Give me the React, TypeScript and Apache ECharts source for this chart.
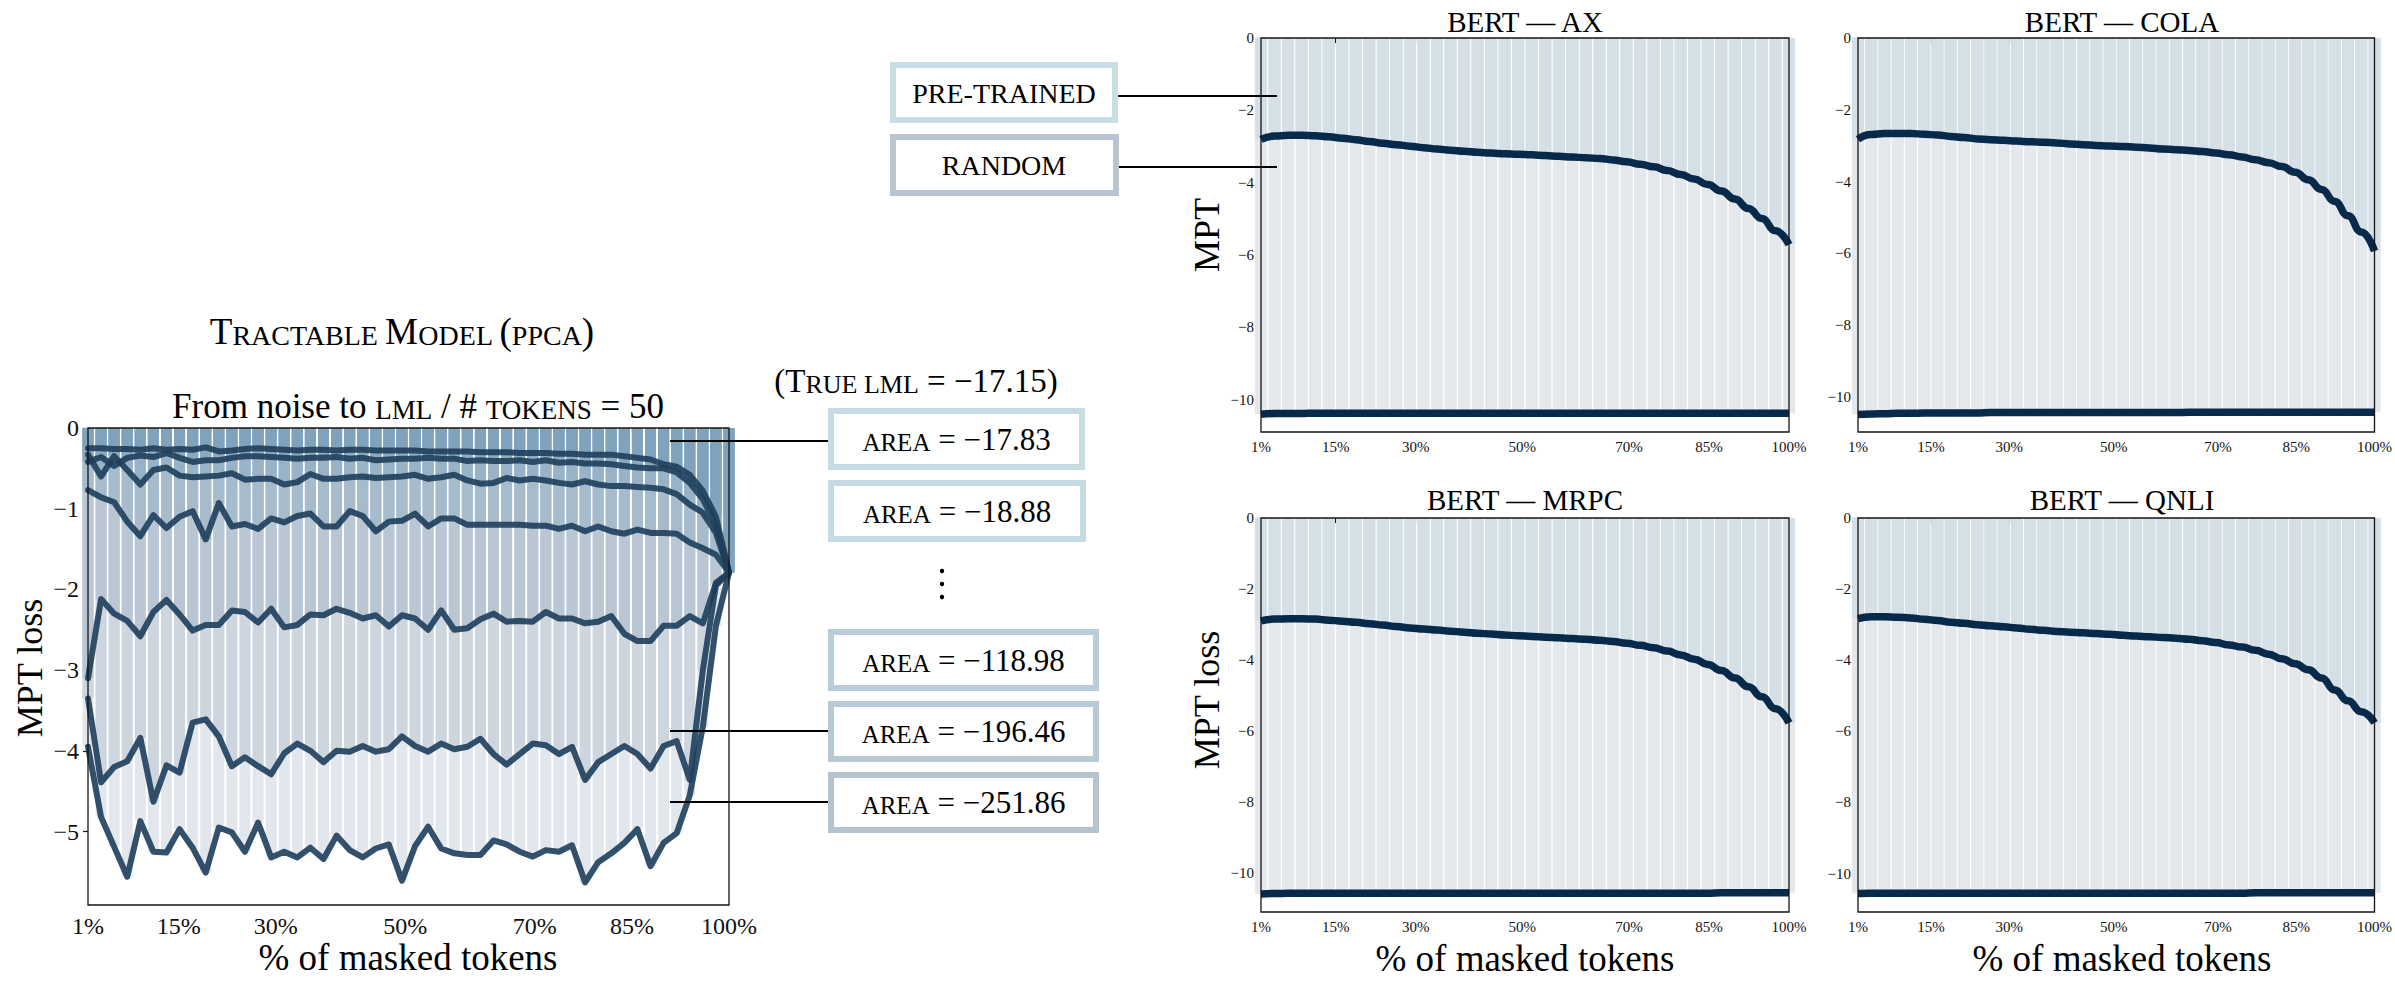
import React, { useEffect, useRef } from "react";
import * as echarts from "echarts";

const SERIF = "'Liberation Serif', 'DejaVu Serif', serif";
const MINUS = "\u2212";

// ---------- categories / ticks ----------
const maskPct50 = [
  1, 3.02, 5.04, 7.06, 9.08, 11.1, 13.12, 15.14, 17.16, 19.18,
  21.2, 23.22, 25.24, 27.27, 29.29, 31.31, 33.33, 35.35, 37.37, 39.39,
  41.41, 43.43, 45.45, 47.47, 49.49, 51.51, 53.53, 55.55, 57.57, 59.59,
  61.61, 63.63, 65.65, 67.67, 69.69, 71.71, 73.73, 75.76, 77.78, 79.8,
  81.82, 83.84, 85.86, 87.88, 89.9, 91.92, 93.94, 95.96, 97.98, 100,
];
const maskPct40 = [
  1, 3.54, 6.08, 8.62, 11.15, 13.69, 16.23, 18.77, 21.31, 23.85,
  26.38, 28.92, 31.46, 34, 36.54, 39.08, 41.62, 44.15, 46.69, 49.23,
  51.77, 54.31, 56.85, 59.38, 61.92, 64.46, 67, 69.54, 72.08, 74.62,
  77.15, 79.69, 82.23, 84.77, 87.31, 89.85, 92.38, 94.92, 97.46, 100,
];
const pctTicks = [1, 15, 30, 50, 70, 85, 100];
const ppcaTicksY = [0, -1, -2, -3, -4, -5];
const bertTicksY = [0, -2, -4, -6, -8, -10];

// ---------- PPCA (left) series: MPT loss per masking level ----------
const ppcaA = [
  -0.25, -0.25, -0.26, -0.26, -0.27, -0.25, -0.27, -0.26, -0.27, -0.24,
  -0.29, -0.28, -0.26, -0.25, -0.26, -0.27, -0.28, -0.27, -0.27, -0.28,
  -0.27, -0.27, -0.28, -0.28, -0.28, -0.28, -0.29, -0.29, -0.29, -0.29,
  -0.3, -0.3, -0.3, -0.31, -0.31, -0.31, -0.32, -0.32, -0.33, -0.33,
  -0.33, -0.35, -0.37, -0.39, -0.45, -0.48, -0.58, -0.78, -1.1, -1.79,
];
const ppcaB = [
  -0.42, -0.36, -0.47, -0.37, -0.34, -0.36, -0.31, -0.37, -0.42, -0.4,
  -0.4, -0.37, -0.35, -0.35, -0.36, -0.37, -0.38, -0.37, -0.37, -0.36,
  -0.38, -0.37, -0.4, -0.39, -0.38, -0.38, -0.37, -0.38, -0.38, -0.41,
  -0.4, -0.41, -0.41, -0.4, -0.42, -0.4, -0.43, -0.42, -0.44, -0.44,
  -0.45, -0.47, -0.49, -0.5, -0.5, -0.55, -0.68, -0.88, -1.2, -1.79,
];
const ppcaC = [
  -0.33, -0.6, -0.35, -0.52, -0.7, -0.52, -0.49, -0.59, -0.61, -0.6,
  -0.59, -0.56, -0.64, -0.63, -0.63, -0.7, -0.67, -0.57, -0.63, -0.63,
  -0.61, -0.6, -0.62, -0.61, -0.6, -0.58, -0.63, -0.61, -0.58, -0.65,
  -0.69, -0.68, -0.62, -0.65, -0.63, -0.65, -0.68, -0.7, -0.66, -0.7,
  -0.72, -0.72, -0.73, -0.74, -0.76, -0.82, -0.95, -1.05, -1.3, -1.79,
];
const ppcaD = [
  -0.77, -0.86, -0.92, -1.16, -1.34, -1.08, -1.24, -1.1, -1.03, -1.38,
  -0.93, -1.22, -1.19, -1.25, -1.12, -1.17, -1.09, -1.06, -1.22, -1.22,
  -1.03, -1.09, -1.28, -1.16, -1.15, -1.06, -1.22, -1.12, -1.12, -1.2,
  -1.2, -1.2, -1.2, -1.2, -1.21, -1.21, -1.25, -1.21, -1.28, -1.22,
  -1.28, -1.31, -1.26, -1.3, -1.3, -1.31, -1.42, -1.49, -1.57, -1.79,
];
const ppcaE = [
  -3.1, -2.12, -2.3, -2.39, -2.58, -2.28, -2.13, -2.31, -2.51, -2.44,
  -2.44, -2.26, -2.28, -2.41, -2.24, -2.47, -2.44, -2.31, -2.32, -2.24,
  -2.29, -2.36, -2.32, -2.46, -2.32, -2.36, -2.5, -2.26, -2.5, -2.48,
  -2.37, -2.3, -2.4, -2.39, -2.4, -2.28, -2.36, -2.36, -2.42, -2.4,
  -2.33, -2.55, -2.64, -2.64, -2.45, -2.45, -2.33, -2.42, -1.92, -1.79,
];
const ppcaF = [
  -3.35, -4.39, -4.2, -4.13, -3.84, -4.63, -4.18, -4.27, -3.65, -3.61,
  -3.82, -4.19, -4.08, -4.19, -4.29, -4.03, -3.91, -4.0, -4.14, -4.0,
  -4.01, -3.94, -4.01, -3.98, -3.82, -3.94, -4.01, -3.91, -3.98, -3.95,
  -3.85, -4.04, -4.17, -4.04, -3.91, -3.93, -4.04, -3.95, -4.36, -4.14,
  -4.04, -3.94, -4.04, -4.22, -3.94, -3.88, -4.36, -3.0, -1.95, -1.79,
];
const ppcaG = [
  -3.95, -4.82, -5.19, -5.56, -4.87, -5.25, -5.26, -4.97, -5.2, -5.51,
  -4.95, -5.01, -5.25, -4.89, -5.32, -5.25, -5.32, -5.2, -5.34, -5.05,
  -5.23, -5.32, -5.21, -5.16, -5.61, -5.18, -4.94, -5.21, -5.27, -5.29,
  -5.29, -5.11, -5.16, -5.25, -5.31, -5.23, -5.25, -5.17, -5.63, -5.38,
  -5.27, -5.14, -4.97, -5.43, -5.14, -5.02, -4.55, -3.7, -2.45, -1.79,
];
const areaValues = ["\u221217.83", "\u221218.88", "\u2212118.98", "\u2212196.46", "\u2212251.86"];

// ---------- BERT (right) series ----------
const axPre = [
  -2.8, -2.71, -2.69, -2.69, -2.7, -2.73, -2.77, -2.81, -2.86, -2.91,
  -2.95, -2.99, -3.03, -3.07, -3.1, -3.13, -3.16, -3.18, -3.2, -3.21,
  -3.23, -3.25, -3.27, -3.29, -3.31, -3.33, -3.37, -3.42, -3.49, -3.56,
  -3.66, -3.77, -3.9, -4.05, -4.23, -4.45, -4.71, -4.99, -5.33, -5.71,
];
const axRand = [
  -10.4, -10.38, -10.38, -10.38, -10.37, -10.37, -10.37, -10.37, -10.37, -10.37,
  -10.37, -10.37, -10.37, -10.37, -10.37, -10.37, -10.37, -10.37, -10.37, -10.37,
  -10.37, -10.37, -10.37, -10.37, -10.37, -10.37, -10.37, -10.37, -10.37, -10.37,
  -10.37, -10.37, -10.37, -10.37, -10.37, -10.37, -10.37, -10.37, -10.37, -10.37,
];
const colaPre = [
  -2.82, -2.69, -2.66, -2.66, -2.66, -2.68, -2.7, -2.74, -2.77, -2.81,
  -2.83, -2.85, -2.87, -2.89, -2.9, -2.92, -2.95, -2.97, -2.99, -3.01,
  -3.02, -3.04, -3.06, -3.09, -3.11, -3.13, -3.16, -3.2, -3.25, -3.31,
  -3.39, -3.47, -3.58, -3.74, -3.95, -4.22, -4.55, -4.95, -5.4, -5.93,
];
const colaRand = [
  -10.48, -10.47, -10.46, -10.45, -10.45, -10.44, -10.44, -10.44, -10.44, -10.44,
  -10.43, -10.43, -10.43, -10.43, -10.43, -10.43, -10.43, -10.43, -10.43, -10.43,
  -10.43, -10.43, -10.43, -10.43, -10.43, -10.42, -10.42, -10.42, -10.42, -10.42,
  -10.42, -10.42, -10.42, -10.42, -10.42, -10.42, -10.42, -10.42, -10.42, -10.42,
];
const mrpcPre = [
  -2.9, -2.85, -2.84, -2.84, -2.85, -2.88, -2.91, -2.94, -2.98, -3.02,
  -3.06, -3.1, -3.13, -3.16, -3.19, -3.22, -3.25, -3.27, -3.3, -3.32,
  -3.34, -3.36, -3.38, -3.4, -3.42, -3.45, -3.48, -3.53, -3.59, -3.66,
  -3.75, -3.86, -3.98, -4.13, -4.3, -4.51, -4.76, -5.04, -5.38, -5.78,
];
const mrpcRand = [
  -10.6, -10.59, -10.58, -10.58, -10.58, -10.58, -10.58, -10.58, -10.58, -10.58,
  -10.58, -10.58, -10.58, -10.58, -10.58, -10.58, -10.58, -10.58, -10.58, -10.58,
  -10.58, -10.58, -10.58, -10.58, -10.58, -10.58, -10.58, -10.58, -10.58, -10.58,
  -10.58, -10.58, -10.58, -10.58, -10.57, -10.57, -10.57, -10.57, -10.57, -10.57,
];
const qnliPre = [
  -2.83, -2.78, -2.78, -2.79, -2.81, -2.85, -2.88, -2.93, -2.96, -3.0,
  -3.03, -3.06, -3.09, -3.13, -3.16, -3.19, -3.21, -3.23, -3.25, -3.27,
  -3.3, -3.32, -3.34, -3.36, -3.38, -3.41, -3.45, -3.5, -3.57, -3.63,
  -3.72, -3.83, -3.96, -4.1, -4.27, -4.5, -4.84, -5.14, -5.45, -5.76,
];
const qnliRand = [
  -10.56, -10.55, -10.55, -10.55, -10.55, -10.55, -10.55, -10.55, -10.55, -10.55,
  -10.55, -10.55, -10.55, -10.55, -10.55, -10.55, -10.55, -10.55, -10.55, -10.55,
  -10.55, -10.55, -10.55, -10.55, -10.55, -10.55, -10.55, -10.55, -10.55, -10.55,
  -10.54, -10.54, -10.54, -10.54, -10.54, -10.54, -10.54, -10.54, -10.54, -10.54,
];
const bertTasks = ["AX", "COLA", "MRPC", "QNLI"];

// ---------- helpers ----------
const fmtNum = (v: number) => (v < 0 ? MINUS + Math.abs(v) : String(v));
const pairs = (xs: number[], ys: number[]) => xs.map((x, i) => [x, ys[i]]);

function buildOption() {
  const grids = [
    { left: 88, top: 428, width: 641, height: 477 },
    { left: 1261, top: 38, width: 528, height: 394 },
    { left: 1858, top: 38, width: 528, height: 394 },
    { left: 1261, top: 518, width: 528, height: 394 },
    { left: 1858, top: 518, width: 528, height: 394 },
  ].map((g) => ({
    ...g,
    show: true,
    z: 10,
    backgroundColor: "transparent",
    borderColor: "#141414",
    borderWidth: 1.3,
    containLabel: false,
  }));

  const yMins = [-5.91, -10.89, -10.97, -11.11, -11.08];

  const xAxis = grids.map((_, gi) => {
    const big = gi === 0;
    return {
      type: "value",
      gridIndex: gi,
      min: 1,
      max: 100,
      axisLine: { show: false },
      splitLine: { show: false },
      axisTick: {
        show: true,
        customValues: pctTicks,
        length: 5,
        lineStyle: { color: "#141414", width: 1.2 },
      },
      axisLabel: {
        customValues: pctTicks,
        formatter: (v: number) => `${v}%`,
        fontFamily: SERIF,
        fontSize: big ? 24 : 15,
        color: "#111",
        margin: big ? 9 : 7,
      },
    };
  });

  const yAxis = grids.map((_, gi) => {
    const big = gi === 0;
    const ticks = big ? ppcaTicksY : bertTicksY;
    return {
      type: "value",
      gridIndex: gi,
      min: yMins[gi],
      max: 0,
      axisLine: { show: false },
      splitLine: { show: false },
      axisTick: {
        show: true,
        customValues: ticks,
        length: 5,
        lineStyle: { color: "#141414", width: 1.2 },
      },
      axisLabel: {
        customValues: ticks,
        formatter: (v: number) => fmtNum(v),
        fontFamily: SERIF,
        fontSize: big ? 24 : 15,
        color: "#111",
        margin: big ? 9 : 7,
      },
    };
  });

  const series: any[] = [];

  // left: overlapping bars, deepest first
  const ppcaLines = [ppcaG, ppcaF, ppcaE, ppcaD, ppcaC, ppcaB, ppcaA];
  const ppcaColors = ["#e2e7ed", "#cdd6df", "#b9c7d5", "#a6bbcc", "#98b3c8", "#8aaac2", "#7fa3bc"];
  ppcaLines.forEach((vals, i) => {
    series.push({
      type: "bar",
      xAxisIndex: 0,
      yAxisIndex: 0,
      data: pairs(maskPct50, vals),
      barWidth: 11,
      barGap: "-100%",
      itemStyle: { color: ppcaColors[i] },
      clip: true,
      silent: true,
      z: 1,
    });
  });
  ppcaLines.forEach((vals) => {
    series.push({
      type: "line",
      xAxisIndex: 0,
      yAxisIndex: 0,
      data: pairs(maskPct50, vals),
      showSymbol: false,
      symbol: "none",
      lineStyle: { color: "#1e3e5b", width: 6, opacity: 0.9, cap: "round", join: "round" },
      clip: true,
      silent: true,
      z: 5,
    });
  });

  // right: BERT panels
  const bertPre = [axPre, colaPre, mrpcPre, qnliPre];
  const bertRand = [axRand, colaRand, mrpcRand, qnliRand];
  bertPre.forEach((pre, i) => {
    const gi = i + 1;
    series.push({
      type: "bar",
      xAxisIndex: gi,
      yAxisIndex: gi,
      data: pairs(maskPct40, bertRand[i]),
      barWidth: 12.2,
      barGap: "-100%",
      itemStyle: { color: "#e4e8ed" },
      clip: true,
      silent: true,
      z: 1,
    });
    series.push({
      type: "bar",
      xAxisIndex: gi,
      yAxisIndex: gi,
      data: pairs(maskPct40, pre),
      barWidth: 12.2,
      barGap: "-100%",
      itemStyle: { color: "#d4dfe6" },
      clip: true,
      silent: true,
      z: 1,
    });
    [bertRand[i], pre].forEach((vals) => {
      series.push({
        type: "line",
        xAxisIndex: gi,
        yAxisIndex: gi,
        data: pairs(maskPct40, vals),
        showSymbol: false,
        symbol: "none",
        smooth: 0.5,
        smoothMonotone: "x",
        lineStyle: { color: "#082a4a", width: 7.5, cap: "butt", join: "round" },
        clip: true,
        silent: true,
        z: 5,
      });
    });
  });

  // ---------- annotations ----------
  const txt = (x: number, y: number, text: string, fontSize: number, rot = 0): any => ({
    type: "text",
    x,
    y,
    rotation: rot,
    z: 100,
    silent: true,
    style: {
      text,
      fontSize,
      fontFamily: SERIF,
      fill: "#000",
      align: "center",
      verticalAlign: "middle",
      textAlign: "center",
      textVerticalAlign: "middle",
    },
  });
  const rich = (x: number, y: number, text: string, big: number, small: number): any => ({
    type: "text",
    x,
    y,
    z: 100,
    silent: true,
    style: {
      text,
      fill: "#000",
      fontFamily: SERIF,
      fontSize: big,
      align: "center",
      verticalAlign: "middle",
      textAlign: "center",
      textVerticalAlign: "middle",
      rich: {
        b: { fontSize: big, fontFamily: SERIF, fill: "#000", verticalAlign: "bottom" },
        s: { fontSize: small, fontFamily: SERIF, fill: "#000", verticalAlign: "bottom" },
      },
    },
  });
  const box = (x1: number, y1: number, x2: number, y2: number, color: string): any => ({
    type: "rect",
    z: 99,
    silent: true,
    shape: { x: x1 + 3, y: y1 + 3, width: x2 - x1 - 6, height: y2 - y1 - 6 },
    style: { fill: "#fff", stroke: color, lineWidth: 6 },
  });
  const seg = (x1: number, y1: number, x2: number, y2: number): any => ({
    type: "line",
    z: 100,
    silent: true,
    shape: { x1, y1, x2, y2 },
    style: { stroke: "#000", lineWidth: 2 },
  });

  const areaBoxes = [
    { y1: 408, y2: 470, x2: 1085, c: "#c6dce5" },
    { y1: 480, y2: 542, x2: 1086, c: "#c4dae4" },
    { y1: 629, y2: 691, x2: 1099, c: "#b8cdd9" },
    { y1: 701, y2: 762, x2: 1099, c: "#b8c9d6" },
    { y1: 772, y2: 833, x2: 1099, c: "#b5c3cf" },
  ];

  const graphic: any[] = [
    rich(402, 331, "{b|T}{s|RACTABLE }{b|M}{s|ODEL }{b|(}{s|PPCA}{b|)}", 37, 28),
    rich(418, 406, "{b|From noise to }{s|LML}{b| / # }{s|TOKENS}{b| = 50}", 35, 27),
    txt(30, 668, "MPT loss", 36, Math.PI / 2),
    txt(408, 957, "% of masked tokens", 37),
    rich(916, 381, "{b|(T}{s|RUE LML}{b| = " + MINUS + "17.15)}", 33, 26),
  ];
  areaBoxes.forEach((b, i) => {
    graphic.push(box(828, b.y1, b.x2, b.y2, b.c));
    graphic.push(rich((828 + b.x2) / 2, (b.y1 + b.y2) / 2, "{s|AREA}{b| = " + areaValues[i] + "}", 31, 25));
  });
  [571, 584, 597].forEach((cy) =>
    graphic.push({ type: "circle", z: 100, silent: true, shape: { cx: 942, cy, r: 2.2 }, style: { fill: "#000" } })
  );
  graphic.push(seg(670, 441, 828, 441), seg(670, 731, 828, 731), seg(670, 802, 828, 802));

  graphic.push(box(890, 62, 1118, 123, "#c8dde6"), box(890, 134, 1119, 196, "#b8c4d0"));
  graphic.push(txt(1004, 93, "PRE-TRAINED", 28), txt(1004, 165, "RANDOM", 28));
  graphic.push(seg(1118, 96, 1277, 96), seg(1119, 167, 1277, 167));

  const centersX = [1525, 2122, 1525, 2122];
  const titleY = [22, 22, 500, 500];
  bertTasks.forEach((t, i) => graphic.push(txt(centersX[i], titleY[i], "BERT \u2014 " + t, 29)));
  graphic.push(txt(1207, 235, "MPT", 36, Math.PI / 2), txt(1207, 700, "MPT loss", 36, Math.PI / 2));
  graphic.push(txt(1525, 958, "% of masked tokens", 37), txt(2122, 958, "% of masked tokens", 37));

  return {
    animation: false,
    backgroundColor: "#fff",
    grid: grids,
    xAxis,
    yAxis,
    series,
    graphic: { elements: graphic },
  };
}

export default function App() {
  const ref = useRef<HTMLDivElement>(null);
  useEffect(() => {
    if (!ref.current) return;
    const chart = echarts.init(ref.current, null, { renderer: "svg" });
    chart.setOption(buildOption() as any);
    return () => chart.dispose();
  }, []);
  return (
    <div
      ref={ref}
      style={{ position: "fixed", left: 0, top: 0, width: 2395, height: 984, background: "#fff" }}
    />
  );
}
